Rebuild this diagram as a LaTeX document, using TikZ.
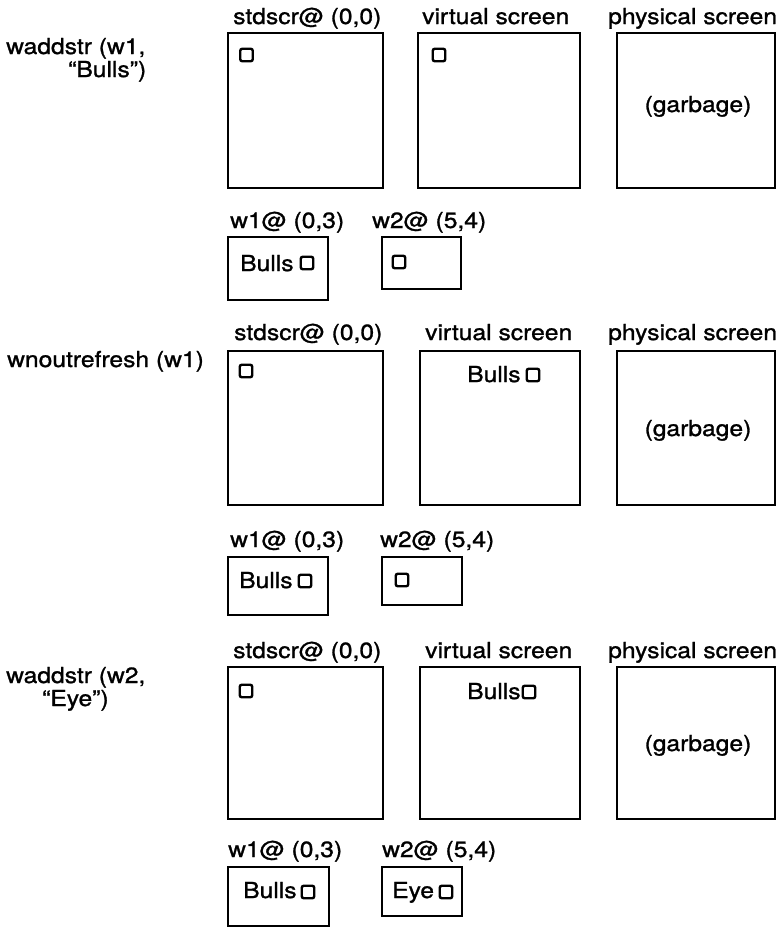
\documentclass[tikz,border=0pt]{standalone}
\usepackage{fontspec}
\setmainfont[FakeStretch=1.12,FakeBold=1.2]{TeX Gyre Heros}
\begin{document}
\begin{tikzpicture}[x=1pt,y=-1pt,
  font=\fontsize{22}{24}\selectfont,
  scr/.style={draw, line width=2.6pt, inner sep=0pt},
  cur/.style={draw, line width=2.4pt, rounded corners=2pt, minimum size=12.5pt, inner sep=0pt},
  lbl/.style={anchor=base west, inner sep=0pt},
  mid/.style={anchor=base, inner sep=0pt}]
\useasboundingbox (0,0) rectangle (783,929);

% ---------------- Panel 1 ----------------
\node[lbl] (c1a) at (6,54) {waddstr (w1,};
\node[lbl] (c1b) at (68,77) {“Bulls”)};

\node[lbl] (hs1) at (233,24) {stdscr@ (0,0)};
\node[lbl] (hv1) at (422,24) {virtual screen};
\node[lbl] (hp1) at (608,24) {physical screen};

\node[scr, minimum width=155pt, minimum height=155pt] (s1) at (305.5,110.5) {};
\node[scr, minimum width=162pt, minimum height=155pt] (v1) at (499,110.5) {};
\node[scr, minimum width=158pt, minimum height=155pt] (p1) at (696,110.5) {};
\node[mid] (g1) at (698,112) {(garbage)};
\node[cur] (cs1) at (246.5,55) {};
\node[cur] (cv1) at (439,55) {};

\node[lbl] (hw11) at (230,228) {w1@ (0,3)};
\node[lbl] (hw21) at (372,228) {w2@ (5,4)};
\node[scr, minimum width=100pt, minimum height=63pt] (wa1) at (278,268.5) {};
\node[scr, minimum width=79pt, minimum height=52pt] (wb1) at (421.5,263) {};
\node[lbl] (ta1) at (240,271) {Bulls};
\node[cur] (cwa1) at (307,263) {};
\node[cur] (cwb1) at (399,262) {};

% ---------------- Panel 2 ----------------
\node[lbl] (c2a) at (7,367) {wnoutrefresh (w1)};

\node[lbl] (hs2) at (234,340) {stdscr@ (0,0)};
\node[lbl] (hv2) at (425,340) {virtual screen};
\node[lbl] (hp2) at (608,340) {physical screen};

\node[scr, minimum width=155pt, minimum height=154pt] (s2) at (305.5,428) {};
\node[scr, minimum width=160pt, minimum height=154pt] (v2) at (500,428) {};
\node[scr, minimum width=158pt, minimum height=154pt] (p2) at (696,428) {};
\node[mid] (g2) at (698,436) {(garbage)};
\node[cur] (cs2) at (246,371) {};
\node[lbl] (tv2) at (467,382) {Bulls};
\node[cur] (cv2) at (533,375) {};

\node[lbl] (hw12) at (230,547) {w1@ (0,3)};
\node[lbl] (hw22) at (380,547) {w2@ (5,4)};
\node[scr, minimum width=100pt, minimum height=58pt] (wa2) at (278,586) {};
\node[scr, minimum width=80pt, minimum height=48pt] (wb2) at (422,581) {};
\node[lbl] (ta2) at (239,588) {Bulls};
\node[cur] (cwa2) at (305,581) {};
\node[cur] (cwb2) at (402,580) {};

% ---------------- Panel 3 ----------------
\node[lbl] (c3a) at (6,683) {waddstr (w2,};
\node[lbl] (c3b) at (42,706) {“Eye”)};

\node[lbl] (hs3) at (233,658) {stdscr@ (0,0)};
\node[lbl] (hv3) at (425,658) {virtual screen};
\node[lbl] (hp3) at (608,658) {physical screen};

\node[scr, minimum width=155pt, minimum height=152pt] (s3) at (305.5,743) {};
\node[scr, minimum width=160pt, minimum height=152pt] (v3) at (500,743) {};
\node[scr, minimum width=158pt, minimum height=152pt] (p3) at (696,743) {};
\node[mid] (g3) at (698,751) {(garbage)};
\node[cur] (cs3) at (246,691) {};
\node[lbl] (tv3) at (467,699) {Bulls};
\node[cur] (cv3) at (529,692) {};

\node[lbl] (hw13) at (228,857) {w1@ (0,3)};
\node[lbl] (hw23) at (382,857) {w2@ (5,4)};
\node[scr, minimum width=101pt, minimum height=59pt] (wa3) at (278.5,896.5) {};
\node[scr, minimum width=80pt, minimum height=49pt] (wb3) at (422,891.5) {};
\node[lbl] (ta3) at (243,898) {Bulls};
\node[cur] (cwa3) at (308,892) {};
\node[lbl] (tb3) at (392,898) {Eye};
\node[cur] (cwb3) at (446,892) {};
\end{tikzpicture}
\end{document}
